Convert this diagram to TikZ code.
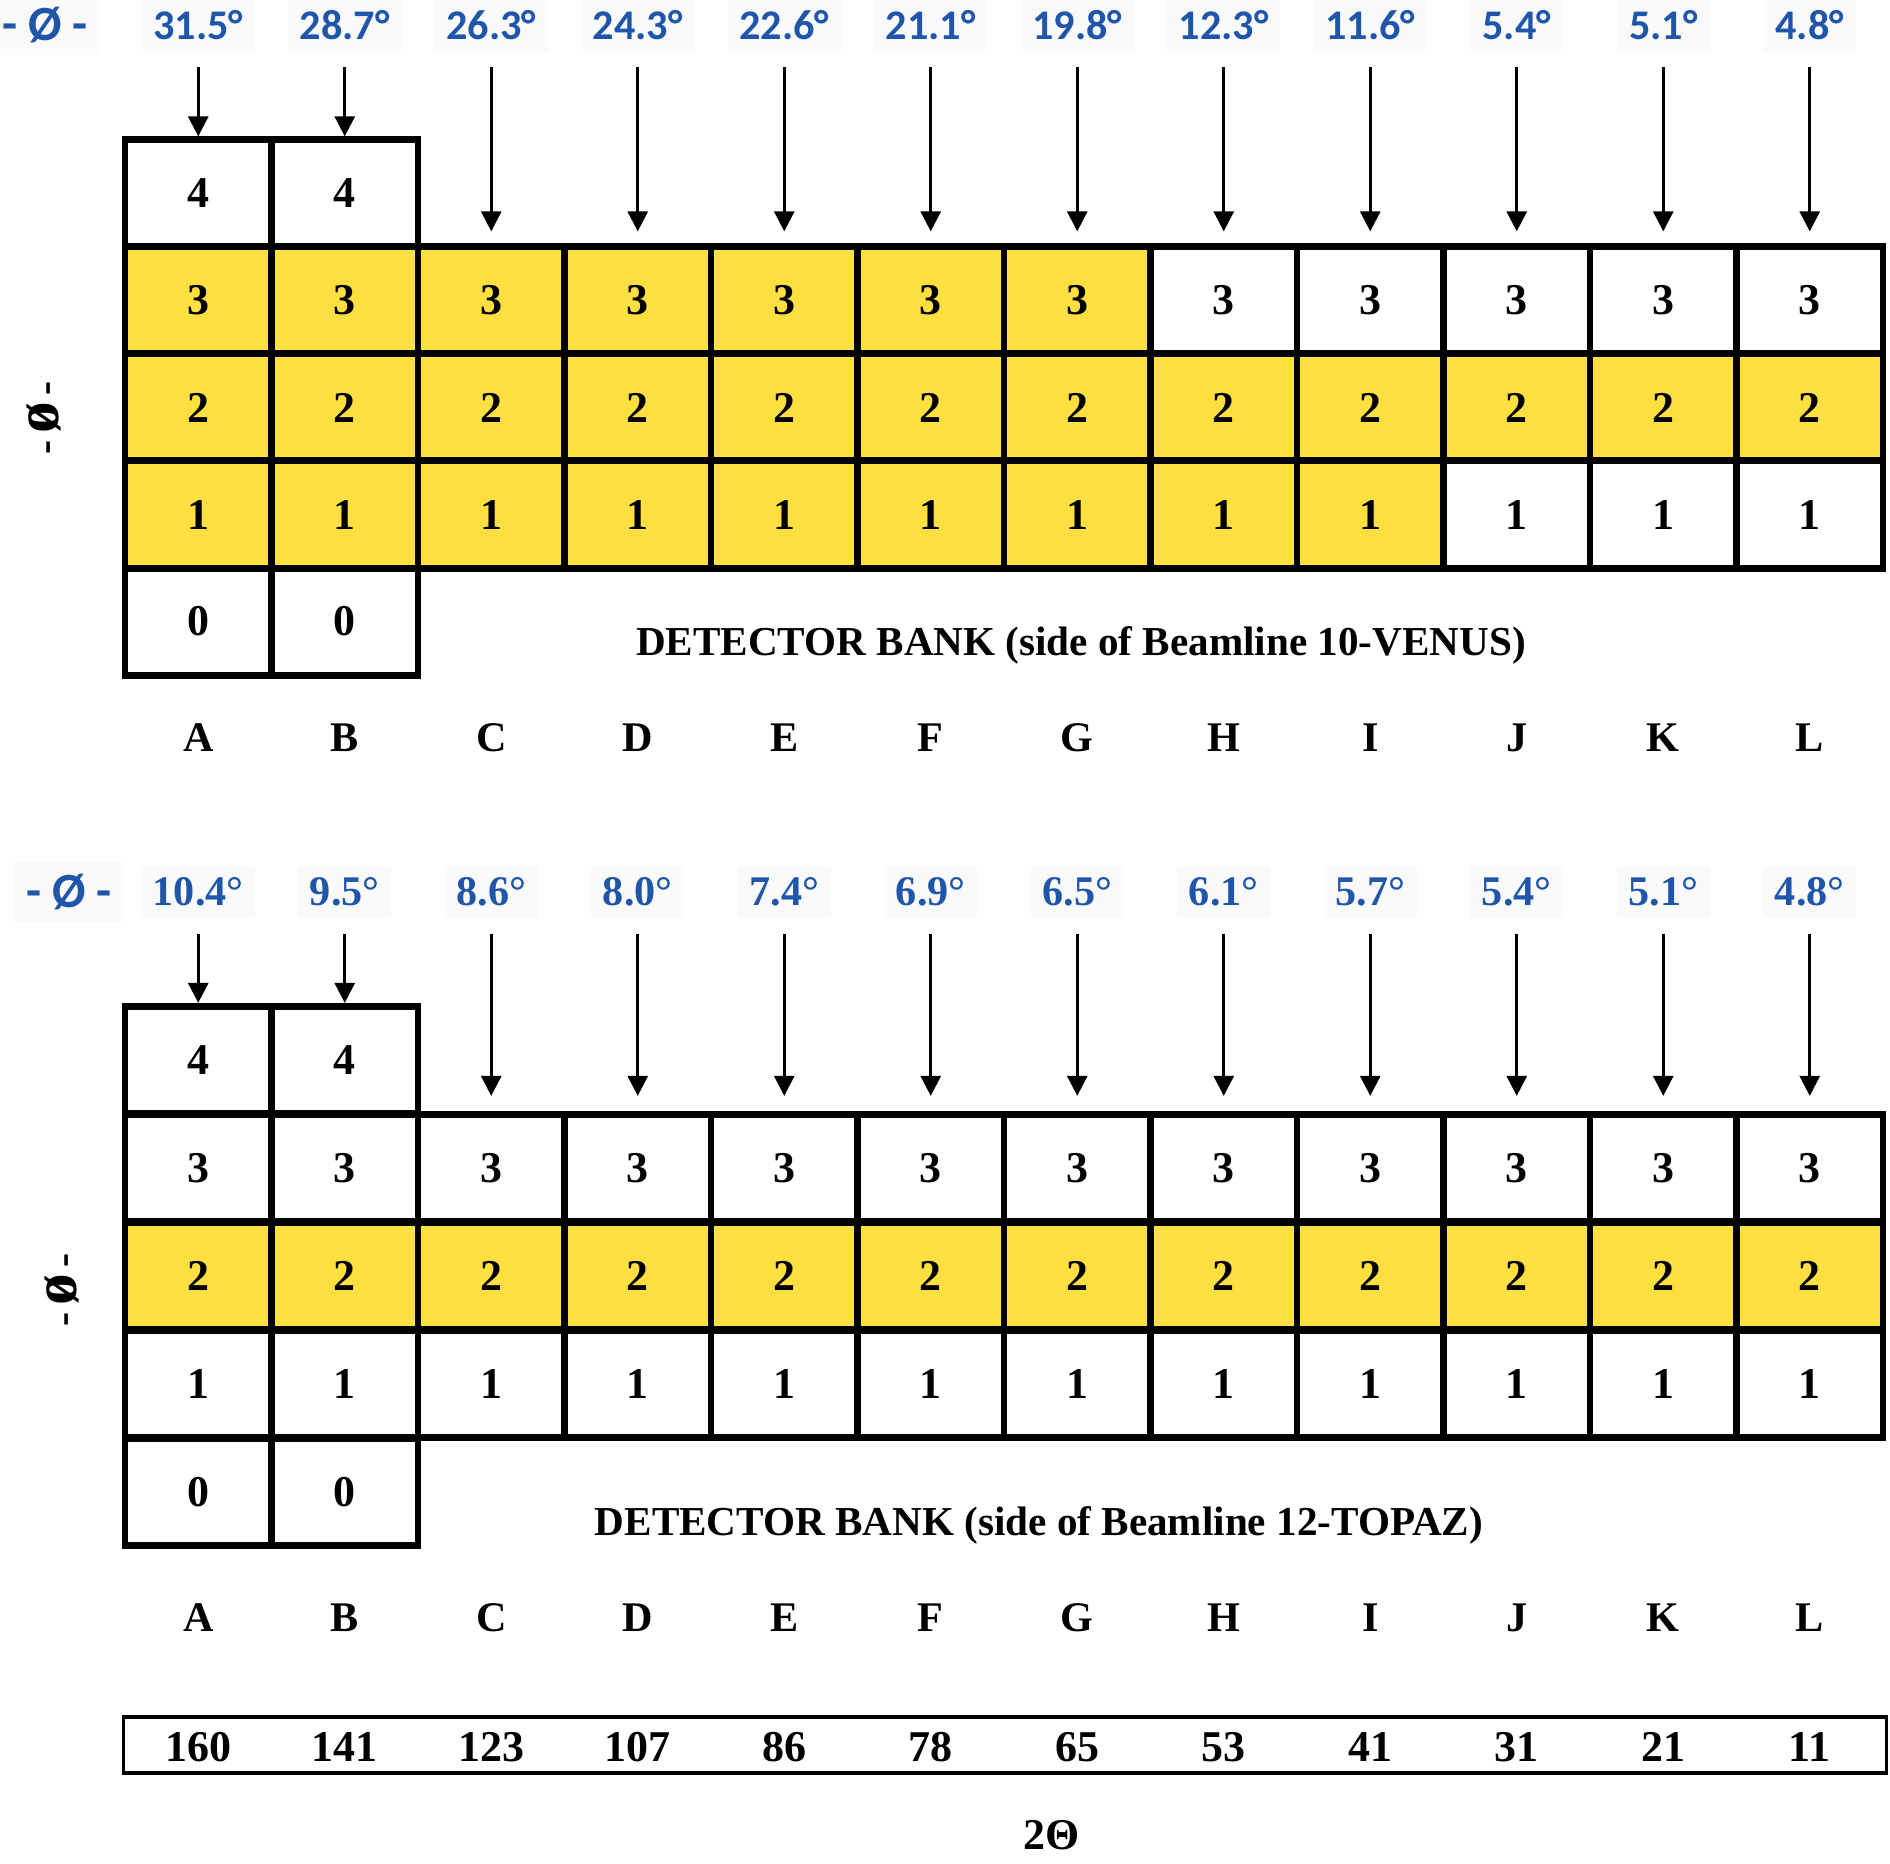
\documentclass[tikz,border=0pt]{standalone}
\usepackage{fontspec}
\setmainfont{Liberation Serif}
\newfontfamily\calibri{Carlito}
\usepackage{tikz}
\usetikzlibrary{arrows.meta,positioning}
\definecolor{detyellow}{RGB}{255,224,64}
\definecolor{angblue}{RGB}{32,86,170}
\newcommand{\phisym}{{\fontsize{12}{14}\selectfont -\,}{\fontsize{18}{20}\selectfont ø}{\fontsize{12}{14}\selectfont \,-}}

\begin{document}
\begin{tikzpicture}[
    x=0.01cm, y=-0.01cm,
    cell/.style={draw, line width=1.9pt, minimum width=1.465cm, minimum height=1.075cm,
                 inner sep=0pt, font=\fontsize{12.5}{14}\selectfont\bfseries},
    angsans/.style={text=angblue, fill=black!2, font=\calibri\fontsize{12}{14}\selectfont\bfseries},
    angserif/.style={text=angblue, fill=black!2, font=\fontsize{12}{14}\selectfont\bfseries},
    letter/.style={font=\fontsize{12}{14}\selectfont\bfseries},
    twotheta/.style={font=\fontsize{12.5}{14}\selectfont\bfseries},
    bank/.style={font=\fontsize{11.7}{14}\selectfont\bfseries},
    phi/.style={rotate=90, font=\bfseries},
    arrow/.style={-{Triangle[width=0.2cm, length=0.2cm]}, line width=0.8pt, shorten <=0.15cm}
]
\useasboundingbox (0,0) rectangle (1890,1864);

% ===== Beamline 10-VENUS side =====
\node[angsans] (vphi) at (45,25) {\fontsize{14}{16}\selectfont - Ø -};
\foreach \col/\ang [count=\i] in {A/31.5, B/28.7, C/26.3, D/24.3, E/22.6, F/21.1,
                                  G/19.8, H/12.3, I/11.6, J/5.4, K/5.1, L/4.8}
  \node[angsans] (vang\col) at ({125+146.5*(\i-0.5)},25) {\ang°};

% rows 4 and 0 only for columns A and B
\node[cell] (vA4) at (198.25,193.5) {4};
\node[cell] (vB4) at (344.75,193.5) {4};
\node[cell] (vA0) at (198.25,621.5) {0};
\node[cell] (vB0) at (344.75,621.5) {0};

% rows 3,2,1: the first \ny columns are yellow
\foreach \r/\ny/\y in {3/7/300.5, 2/12/407.5, 1/9/514.5}
  \foreach \col [count=\i] in {A,B,C,D,E,F,G,H,I,J,K,L} {
    \ifnum\i>\ny \def\fc{white}\else\def\fc{detyellow}\fi
    \node[cell, fill=\fc] (v\col\r) at ({125+146.5*(\i-0.5)},\y) {\r};
  }

\node[phi] (vphiside) at (44,418) {\phisym};
\node[bank] (vbank) at (1081,645) {DETECTOR BANK (side of Beamline 10-VENUS)};
\foreach \col [count=\i] in {A,B,C,D,E,F,G,H,I,J,K,L}
  \node[letter] (vlet\col) at ({125+146.5*(\i-0.5)},738) {\col};

% arrows
\draw[arrow] (vangA) -- (vA4);
\draw[arrow] (vangB) -- (vB4);
\foreach \col in {C,D,E,F,G,H,I,J,K,L}
  \draw[arrow, shorten >=0.12cm] (vang\col) -- (v\col3);

% ===== Beamline 12-TOPAZ side =====
\node[angsans] (tphi) at (69,892) {\fontsize{14}{16}\selectfont - Ø -};
\foreach \col/\ang [count=\i] in {A/10.4, B/9.5, C/8.6, D/8.0, E/7.4, F/6.9,
                                  G/6.5, H/6.1, I/5.7, J/5.4, K/5.1, L/4.8}
  \node[angserif] (tang\col) at ({125+146.5*(\i-0.5)},892) {\ang°};

\node[cell] (tA4) at (198.25,1060) {4};
\node[cell] (tB4) at (344.75,1060) {4};
\node[cell] (tA0) at (198.25,1492) {0};
\node[cell] (tB0) at (344.75,1492) {0};

\foreach \r/\ny/\y in {3/0/1168, 2/12/1276, 1/0/1384}
  \foreach \col [count=\i] in {A,B,C,D,E,F,G,H,I,J,K,L} {
    \ifnum\i>\ny \def\fc{white}\else\def\fc{detyellow}\fi
    \node[cell, fill=\fc] (t\col\r) at ({125+146.5*(\i-0.5)},\y) {\r};
  }

\node[phi] (tphiside) at (62,1290) {\phisym};
\node[bank] (tbank) at (1039,1525) {DETECTOR BANK (side of Beamline 12-TOPAZ)};
\foreach \col [count=\i] in {A,B,C,D,E,F,G,H,I,J,K,L}
  \node[letter] (tlet\col) at ({125+146.5*(\i-0.5)},1618) {\col};

\draw[arrow] (tangA) -- (tA4);
\draw[arrow] (tangB) -- (tB4);
\foreach \col in {C,D,E,F,G,H,I,J,K,L}
  \draw[arrow, shorten >=0.15cm] (tang\col) -- (t\col3);

% ===== 2Theta scale =====
\node[draw, line width=1pt, minimum width=17.62cm, minimum height=0.56cm] (ttbox) at (1005,1745) {};
\foreach \col/\tt [count=\i] in {A/160, B/141, C/123, D/107, E/86, F/78,
                                 G/65, H/53, I/41, J/31, K/21, L/11}
  \node[twotheta] (tt\col) at ({125+146.5*(\i-0.5)},1747) {\tt};
\node[twotheta] (twotheta) at (1052,1835) {2Θ};

\end{tikzpicture}
\end{document}
